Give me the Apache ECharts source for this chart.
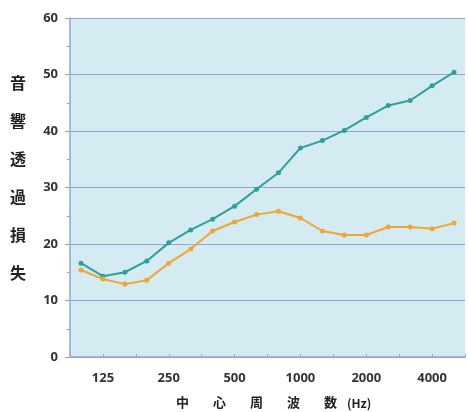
<!DOCTYPE html>
<html>
<head>
<meta charset="utf-8">
<script src="https://cdn.jsdelivr.net/npm/echarts@6/dist/echarts.min.js"></script>
<style>
html,body{margin:0;padding:0;background:#fff;}
#c{width:468px;height:412px;}
</style>
</head>
<body>
<div id="c"></div>
<script>
var categories = ['100','125','160','200','250','315','400','500','630','800','1000','1250','1600','2000','2500','3150','4000','5000'];
var seriesTeal = [16.6,14.3,15.0,17.0,20.2,22.5,24.4,26.7,29.7,32.6,37.0,38.3,40.1,42.4,44.5,45.4,48.0,50.4];
var seriesOrange = [15.4,13.8,12.9,13.6,16.6,19.1,22.3,23.9,25.2,25.8,24.6,22.3,21.6,21.6,23.0,23.0,22.7,23.7];
var xTickLabels = ['125','250','500','1000','2000','4000'];
var yLabelChars = ['音','響','透','過','損','失'];
var xTitleChars = ['中','心','周','波','数'];
var xTitleUnit = '(Hz)';

function toPairs(arr){ return arr.map(function(v,i){ return [i+0.5, v]; }); }

var chart = echarts.init(document.getElementById('c'));
var graphics = [];
yLabelChars.forEach(function(ch,i){
  graphics.push({type:'text', left:10, top:75+i*38, style:{text:ch, font:'bold 16px "Noto Sans CJK JP"', fill:'#222'}});
});
xTitleChars.forEach(function(ch,i){
  graphics.push({type:'text', left:176+i*37, top:396, style:{text:ch, font:'bold 13px "Noto Sans CJK JP"', fill:'#222'}});
});
graphics.push({type:'text', left:347, top:397, style:{text:xTitleUnit, font:'bold 12px "Noto Sans CJK JP"', fill:'#222'}});

var axisCol = '#95a4d8';
chart.setOption({
  animation:false,
  graphic: graphics,
  grid:{left:70, top:18, bottom:55, right:-1, show:true, backgroundColor:'#d3ebf1', borderWidth:0},
  xAxis:{
    type:'value', min:0, max:18, interval:1.5,
    axisLine:{show:true, lineStyle:{color:axisCol, width:1.5}},
    axisTick:{show:true, inside:true, length:3, lineStyle:{color:axisCol}},
    splitLine:{show:false},
    axisLabel:{
      margin:15, color:'#333', fontSize:13, fontWeight:'bold', fontFamily:'"Noto Sans"',
      formatter:function(v){
        var k=(v-1.5)/3;
        if (Math.abs(k-Math.round(k))<1e-6 && xTickLabels[Math.round(k)]!==undefined) return xTickLabels[Math.round(k)];
        return '';
      }
    }
  },
  yAxis:{
    type:'value', min:0, max:60, interval:10,
    axisLine:{show:true, lineStyle:{color:axisCol, width:1.5}},
    axisTick:{show:true, length:5, lineStyle:{color:axisCol}},
    minorTick:{show:true, splitNumber:2, length:3, lineStyle:{color:axisCol}},
    splitLine:{show:true, lineStyle:{color:axisCol, width:1.2}},
    axisLabel:{margin:12, color:'#333', fontSize:13, fontWeight:'bold', fontFamily:'"Noto Sans"'}
  },
  series:[
    {type:'line', data:toPairs(seriesTeal), symbol:'circle', symbolSize:5, itemStyle:{color:'#2e9f9b'}, lineStyle:{color:'#2e9f9b', width:2}},
    {type:'line', data:toPairs(seriesOrange), symbol:'circle', symbolSize:5, itemStyle:{color:'#eea638'}, lineStyle:{color:'#eea638', width:2}}
  ]
});
</script>
</body>
</html>
